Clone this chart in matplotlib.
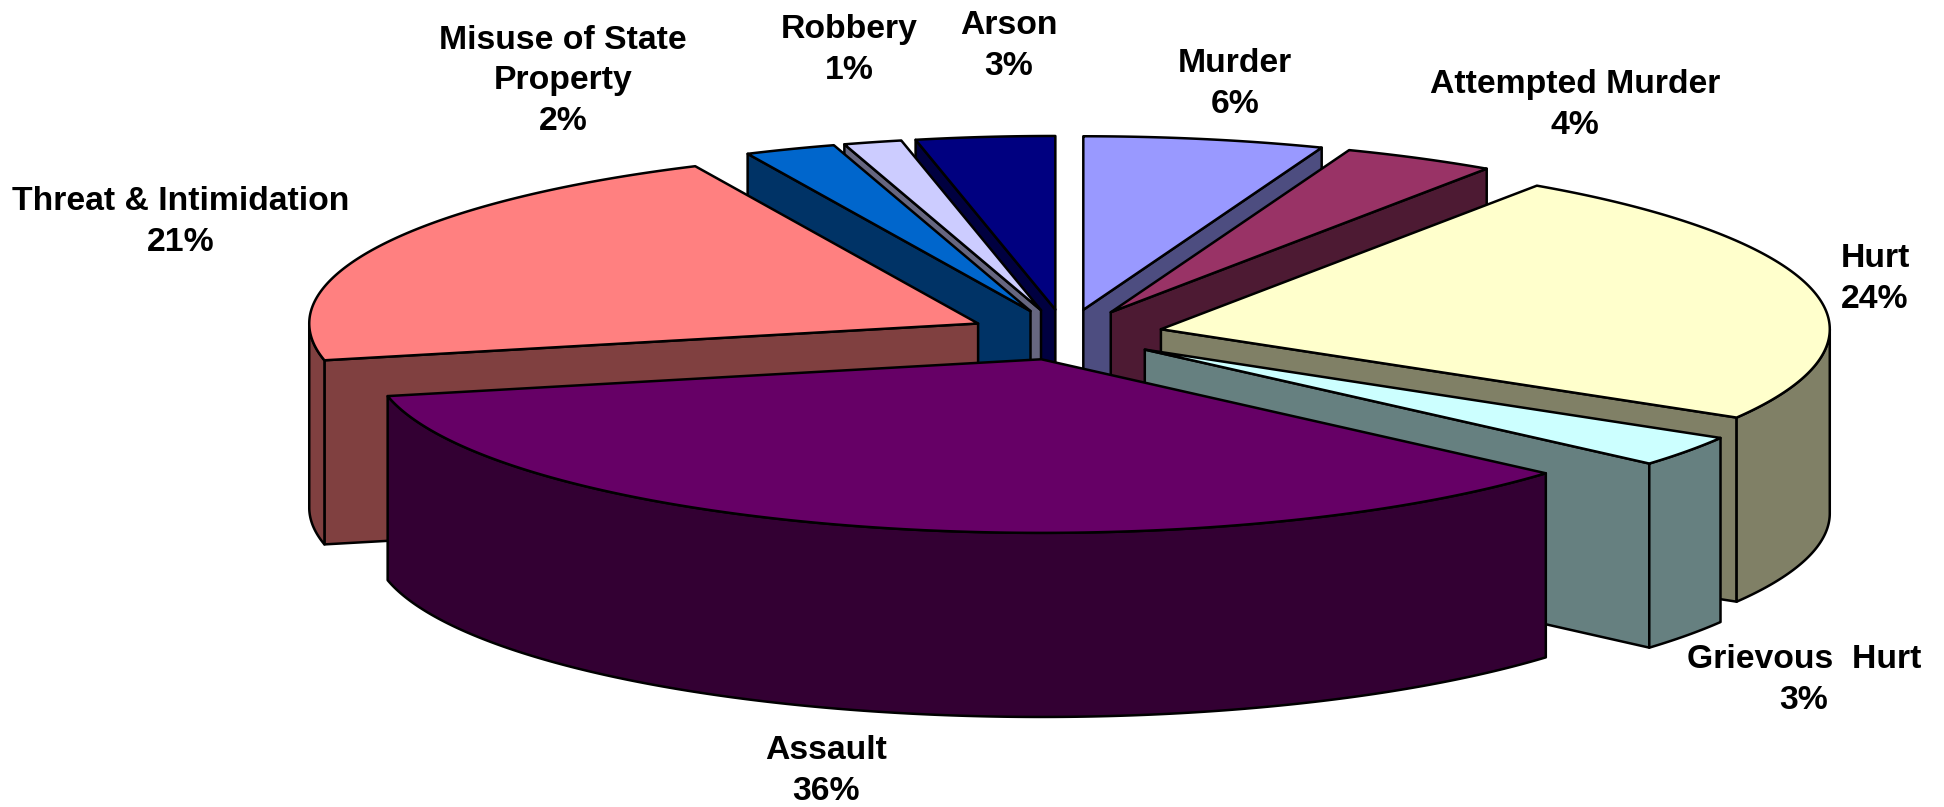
import numpy as np
import matplotlib
matplotlib.use("Agg")
import matplotlib.pyplot as plt
from matplotlib.patches import Polygon

categories = ["Murder", "Attempted Murder", "Hurt", "Grievous  Hurt", "Assault",
              "Threat & Intimidation", "Misuse of State\nProperty", "Robbery", "Arson"]
values = [5.8, 3.7, 24.0, 2.9, 35.2, 21.45, 2.2, 1.4, 3.35]
shown_pct = [6, 4, 24, 3, 36, 21, 2, 1, 3]
top_colors = ["#9999FF", "#993366", "#FFFFCC", "#CCFFFF", "#660066", "#FF8080", "#0066CC", "#CCCCFF", "#000080"]
side_colors = ["#4D4D80", "#4D1A33", "#808066", "#668080", "#330033", "#804040", "#003366", "#666680", "#000040"]
label_xy = [(1235, 84), (1575, 105), (1875, 279), (1804, 680), (826, 771), (181, 222), (563, 81), (849, 50), (1009, 46)]

S = 1944 / 1568
CX, CY = 859.5 * S, 270 * S
RX, RY = 539.5 * S, 140 * S
DEPTH = 148.5 * S
EXPLODE = 0.146
draw_order = [8, 7, 6, 0, 1, 5, 2, 3, 4]

plt.rcParams["font.family"] = ["Liberation Sans", "DejaVu Sans"]
fig = plt.figure(figsize=(19.44, 8.07), dpi=100, facecolor="white")
ax = fig.add_axes([0, 0, 1, 1])
ax.set_xlim(0, 1944)
ax.set_ylim(807, 0)
ax.axis("off")

edges = np.concatenate([[0], np.cumsum(values)]) * 3.6


def point(deg, ox, oy, drop=0.0):
    t = np.radians(deg)
    return np.column_stack([ox + RX * np.sin(t), oy - RY * np.cos(t) + drop])


def add(pts, color, z):
    ax.add_patch(Polygon(pts, closed=True, facecolor=color, edgecolor="black",
                         linewidth=1.8, joinstyle="round", zorder=z))


for n, i in enumerate(draw_order):
    a, b = edges[i], edges[i + 1]
    mid = np.radians((a + b) / 2)
    ox = CX + EXPLODE * RX * np.sin(mid)
    oy = CY - EXPLODE * RY * np.cos(mid)
    apex = np.array([[ox, oy]])
    z = n * 4 + 1
    for ang, vis in ((a, np.sin(np.radians(a)) < -1e-6), (b, np.sin(np.radians(b)) > 1e-6)):
        if vis:
            p = point(ang, ox, oy)
            add(np.vstack([apex, p, p + [0, DEPTH], apex + [0, DEPTH]]), side_colors[i], z)
    lo, hi = max(a, 90), min(b, 270)
    if hi > lo:
        arc = np.linspace(lo, hi, 200)
        up = point(arc, ox, oy)
        dn = point(arc[::-1], ox, oy, DEPTH)
        add(np.vstack([up, dn]), side_colors[i], z + 1)
    add(np.vstack([apex, point(np.linspace(a, b, 300), ox, oy)]), top_colors[i], z + 2)

for name, pct, (x, y) in zip(categories, shown_pct, label_xy):
    ax.text(x, y, f"{name}\n{pct}%", ha="center", va="center", fontsize=24.3,
            fontweight="bold", color="black", linespacing=1.4, zorder=100)

fig.savefig("out.png", dpi=100, facecolor="white")
